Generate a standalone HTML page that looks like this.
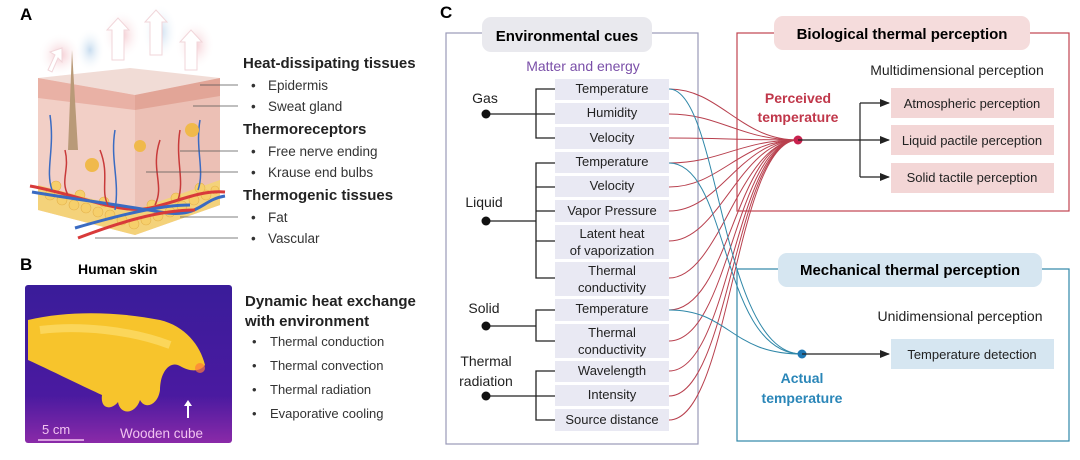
<!DOCTYPE html>
<html><head><meta charset="utf-8"><style>
html,body{margin:0;padding:0;background:#fff;}
svg{display:block;font-family:"Liberation Sans",Arial,sans-serif;}
</style></head><body>
<svg width="1080" height="460" viewBox="0 0 1080 460" xmlns="http://www.w3.org/2000/svg">
<defs>
<marker id="ar" markerWidth="10" markerHeight="8" refX="9" refY="4" orient="auto" markerUnits="userSpaceOnUse"><path d="M0,0 L10,4 L0,8 Z" fill="#222"/></marker>
<radialGradient id="glowR" cx="50%" cy="50%" r="50%"><stop offset="0" stop-color="#f4c9cf"/><stop offset="1" stop-color="#fff" stop-opacity="0"/></radialGradient>
<radialGradient id="glowB" cx="50%" cy="50%" r="50%"><stop offset="0" stop-color="#c7dcef"/><stop offset="1" stop-color="#fff" stop-opacity="0"/></radialGradient>
<linearGradient id="ir" x1="0" y1="0" x2="0" y2="1"><stop offset="0" stop-color="#3a1c9a"/><stop offset="0.7" stop-color="#4a1aa0"/><stop offset="1" stop-color="#8a2aa8"/></linearGradient>
</defs>

<!-- Panel A -->
<text x="20" y="20" font-size="17" font-weight="bold">A</text>
<ellipse cx="60" cy="55" rx="22" ry="22" fill="url(#glowR)"/>
<ellipse cx="122" cy="35" rx="20" ry="25" fill="url(#glowR)"/>
<ellipse cx="160" cy="32" rx="18" ry="28" fill="url(#glowB)"/>
<ellipse cx="195" cy="45" rx="20" ry="25" fill="url(#glowR)"/>
<ellipse cx="90" cy="50" rx="15" ry="22" fill="url(#glowB)"/>
<!-- skin block -->
<polygon points="38,78 130,68 220,78 135,95" fill="#f1dcd6"/>
<polygon points="38,78 135,95 135,235 38,210" fill="#f2cfc6"/>
<polygon points="135,95 220,78 220,205 135,235" fill="#ecc0b5"/>
<polygon points="38,78 135,95 135,110 38,98" fill="#e9b1a5"/>
<polygon points="135,95 220,78 220,96 135,110" fill="#e2a597"/>
<polygon points="38,185 135,210 220,180 220,205 135,235 38,210" fill="#f4d27a"/>
<g fill="#f6cf6b" stroke="#e4b14a" stroke-width="0.6">
<circle cx="50" cy="195" r="5"/><circle cx="62" cy="200" r="5"/><circle cx="74" cy="205" r="5"/><circle cx="86" cy="208" r="5"/><circle cx="98" cy="212" r="5"/><circle cx="110" cy="215" r="5"/><circle cx="122" cy="220" r="5"/><circle cx="134" cy="224" r="5"/><circle cx="146" cy="220" r="5"/><circle cx="158" cy="216" r="5"/><circle cx="170" cy="212" r="5"/><circle cx="182" cy="206" r="5"/><circle cx="194" cy="200" r="5"/><circle cx="206" cy="195" r="5"/><circle cx="215" cy="190" r="4"/>
<circle cx="56" cy="186" r="5"/><circle cx="80" cy="195" r="5"/><circle cx="104" cy="202" r="5"/><circle cx="152" cy="205" r="5"/><circle cx="176" cy="198" r="5"/><circle cx="200" cy="188" r="5"/>
</g>
<path d="M30,186 C80,195 120,215 150,208 S200,190 225,192" stroke="#d83a3a" stroke-width="3" fill="none"/>
<path d="M32,192 C80,200 120,205 160,212 S200,200 225,196" stroke="#3a6bc2" stroke-width="3" fill="none"/>
<path d="M75,228 C120,215 160,205 190,205" stroke="#3a6bc2" stroke-width="3" fill="none"/>
<path d="M78,238 C120,222 160,210 195,210" stroke="#d83a3a" stroke-width="3" fill="none"/>
<g stroke-width="1.5" fill="none">
<path d="M50,115 C55,150 45,170 52,190" stroke="#3a6bc2"/><path d="M115,130 C110,160 120,180 115,210" stroke="#3a6bc2"/><path d="M200,120 C195,150 205,170 198,190" stroke="#3a6bc2"/>
<path d="M65,150 C70,170 60,180 68,195" stroke="#c83a3a"/><path d="M160,140 C150,170 165,185 155,205" stroke="#c83a3a"/><path d="M180,130 C175,160 185,180 178,200" stroke="#c83a3a"/><path d="M100,150 C110,175 100,190 108,205" stroke="#c83a3a"/>
</g>
<path d="M72,50 L78,150 L68,150 Z" fill="#b99a78"/>
<circle cx="92" cy="165" r="7" fill="#f0b94b"/><circle cx="192" cy="130" r="7" fill="#f0b94b"/><circle cx="140" cy="146" r="6" fill="#f0b94b"/>
<g fill="#fff" stroke="#f1d6da" stroke-width="1">
<path d="M112,60 L112,30 L107,30 L118,18 L129,30 L124,30 L124,60 Z"/>
<path d="M185,70 L185,42 L180,42 L191,30 L202,42 L197,42 L197,70 Z"/>
<path d="M150,55 L150,22 L145,22 L156,10 L167,22 L162,22 L162,55 Z"/>
<path d="M48,70 L55,55 L50,52 L62,48 L62,62 L58,58 L52,72 Z"/>
</g>
<g stroke="#555" stroke-width="0.8">
<line x1="200" y1="85" x2="238" y2="85"/><line x1="193" y1="106" x2="238" y2="106"/><line x1="180" y1="151" x2="238" y2="151"/><line x1="146" y1="172" x2="238" y2="172"/><line x1="180" y1="217" x2="238" y2="217"/><line x1="95" y1="238" x2="238" y2="238"/>
</g>
<g font-size="15" font-weight="bold" fill="#222">
<text x="243" y="68">Heat-dissipating tissues</text>
<text x="243" y="134">Thermoreceptors</text>
<text x="243" y="200">Thermogenic tissues</text>
</g>
<g font-size="13.5" fill="#333">
<text x="251" y="90">•</text><text x="268" y="90">Epidermis</text>
<text x="251" y="111">•</text><text x="268" y="111">Sweat gland</text>
<text x="251" y="156">•</text><text x="268" y="156">Free nerve ending</text>
<text x="251" y="177">•</text><text x="268" y="177">Krause end bulbs</text>
<text x="251" y="222">•</text><text x="268" y="222">Fat</text>
<text x="251" y="243">•</text><text x="268" y="243">Vascular</text>
</g>

<!-- Panel B -->
<text x="20" y="270" font-size="17" font-weight="bold">B</text>
<text x="78" y="274" font-size="14" font-weight="bold">Human skin</text>
<rect x="25" y="285" width="207" height="158" fill="url(#ir)" rx="3"/>
<path d="M28,320 C70,310 120,312 160,320 C185,326 200,345 205,365 C200,372 190,372 180,366 C170,360 160,372 160,390 C158,405 145,410 140,400 C135,415 120,415 118,402 C112,410 100,410 102,395 C80,385 50,370 28,360 Z" fill="#f7c42c"/>
<path d="M40,330 C80,325 130,330 170,345" stroke="#fde27a" stroke-width="8" fill="none" opacity="0.6"/>
<circle cx="200" cy="368" r="5" fill="#ff7a3a" opacity="0.7"/>
<line x1="38" y1="440" x2="84" y2="440" stroke="#f2c3f0" stroke-width="1.5"/>
<text x="42" y="434" font-size="13" fill="#f2c3f0">5 cm</text>
<text x="120" y="438" font-size="13.5" fill="#f2c3f0">Wooden cube</text>
<path d="M187,418 L187,406 L184,406 L188,400 L192,406 L189,406 L189,418 Z" fill="#fff"/>
<g font-size="15" font-weight="bold" fill="#222">
<text x="245" y="306">Dynamic heat exchange</text>
<text x="245" y="326">with environment</text>
</g>
<g font-size="13" fill="#333">
<text x="252" y="346">•</text><text x="270" y="346">Thermal conduction</text>
<text x="252" y="370">•</text><text x="270" y="370">Thermal convection</text>
<text x="252" y="394">•</text><text x="270" y="394">Thermal radiation</text>
<text x="252" y="418">•</text><text x="270" y="418">Evaporative cooling</text>
</g>

<!-- Panel C -->
<text x="440" y="18" font-size="17" font-weight="bold">C</text>
<rect x="446" y="33" width="252" height="411" fill="none" stroke="#9a9ab8" stroke-width="1.2"/>
<rect x="482" y="17" width="170" height="35" rx="9" fill="#e9e9ee"/>
<text x="567" y="41" font-size="15" font-weight="bold" text-anchor="middle">Environmental cues</text>
<text x="583" y="71" font-size="14" fill="#7a4fa8" text-anchor="middle">Matter and energy</text>

<g fill="#e9e9f3">
<rect x="555" y="79" width="114" height="21"/><rect x="555" y="103" width="114" height="21"/><rect x="555" y="127" width="114" height="22"/>
<rect x="555" y="152" width="114" height="21"/><rect x="555" y="176" width="114" height="21"/><rect x="555" y="200" width="114" height="22"/>
<rect x="555" y="225" width="114" height="34"/><rect x="555" y="262" width="114" height="34"/>
<rect x="555" y="299" width="114" height="22"/><rect x="555" y="324" width="114" height="34"/>
<rect x="555" y="361" width="114" height="21"/><rect x="555" y="385" width="114" height="21"/><rect x="555" y="409" width="114" height="22"/>
</g>
<g font-size="13" fill="#222" text-anchor="middle">
<text x="612" y="93">Temperature</text><text x="612" y="117">Humidity</text><text x="612" y="142">Velocity</text>
<text x="612" y="166">Temperature</text><text x="612" y="190">Velocity</text><text x="612" y="215">Vapor Pressure</text>
<text x="612" y="238">Latent heat</text><text x="612" y="255">of vaporization</text>
<text x="612" y="275">Thermal</text><text x="612" y="292">conductivity</text>
<text x="612" y="313">Temperature</text>
<text x="612" y="337">Thermal</text><text x="612" y="354">conductivity</text>
<text x="612" y="375">Wavelength</text><text x="612" y="399">Intensity</text><text x="612" y="424">Source distance</text>
</g>
<g stroke="#222" stroke-width="1.3" fill="none">
<path d="M555,89 H536 V138 H555 M486,114 H555"/>
<path d="M555,163 H536 V278 H555 M536,187 H555 M536,211 H555 M536,241 H555 M486,221 H536"/>
<path d="M555,310 H536 V341 H555 M486,326 H536"/>
<path d="M555,371 H536 V420 H555 M486,396 H555"/>
</g>
<g fill="#111"><circle cx="486" cy="114" r="4.5"/><circle cx="486" cy="221" r="4.5"/><circle cx="486" cy="326" r="4.5"/><circle cx="486" cy="396" r="4.5"/></g>
<g font-size="14" fill="#222" text-anchor="middle">
<text x="485" y="103">Gas</text><text x="484" y="207">Liquid</text><text x="484" y="313">Solid</text>
<text x="486" y="366">Thermal</text><text x="486" y="386">radiation</text>
</g>

<!-- connectors -->
<g stroke="#b8404e" stroke-width="1" fill="none">
<path d="M669,89 C720,89 740,140 798,140"/><path d="M669,114 C720,114 740,140 798,140"/><path d="M669,138 C720,138 740,140 798,140"/>
<path d="M669,163 C720,163 740,140 798,140"/><path d="M669,187 C720,187 740,140 798,140"/><path d="M669,211 C720,211 740,140 798,140"/>
<path d="M669,241 C720,241 740,140 798,140"/><path d="M669,278 C720,278 740,140 798,140"/><path d="M669,310 C730,310 735,140 798,140"/>
<path d="M669,341 C730,341 735,140 798,140"/><path d="M669,371 C730,371 735,140 798,140"/><path d="M669,396 C730,396 735,140 798,140"/><path d="M669,420 C730,420 735,140 798,140"/>
</g>
<g stroke="#2f87a8" stroke-width="1" fill="none">
<path d="M669,89 C720,89 720,354 802,354"/><path d="M669,163 C730,163 720,354 802,354"/><path d="M669,310 C730,310 730,354 802,354"/>
</g>

<!-- Bio box -->
<rect x="737" y="33" width="332" height="178" fill="none" stroke="#c0434f" stroke-width="1.2"/>
<rect x="774" y="16" width="256" height="34" rx="9" fill="#f5dcdc"/>
<text x="902" y="39" font-size="15" font-weight="bold" text-anchor="middle">Biological thermal perception</text>
<text x="957" y="75" font-size="14" fill="#222" text-anchor="middle">Multidimensional perception</text>
<text x="798" y="103" font-size="14" font-weight="bold" fill="#c0374a" text-anchor="middle">Perceived</text>
<text x="798" y="122" font-size="14" font-weight="bold" fill="#c0374a" text-anchor="middle">temperature</text>
<circle cx="798" cy="140" r="4.5" fill="#c8224e"/>
<g stroke="#222" stroke-width="1.2" fill="none">
<line x1="798" y1="140" x2="889" y2="140" marker-end="url(#ar)"/>
<path d="M860,103 V177"/><line x1="860" y1="103" x2="889" y2="103" marker-end="url(#ar)"/><line x1="860" y1="177" x2="889" y2="177" marker-end="url(#ar)"/>
</g>
<g fill="#f3d6d6"><rect x="891" y="88" width="163" height="30"/><rect x="891" y="125" width="163" height="30"/><rect x="891" y="163" width="163" height="30"/></g>
<g font-size="13" fill="#222" text-anchor="middle">
<text x="972" y="108">Atmospheric perception</text><text x="972" y="145">Liquid pactile perception</text><text x="972" y="182">Solid tactile perception</text>
</g>

<!-- Mech box -->
<rect x="737" y="269" width="332" height="172" fill="none" stroke="#2f87a8" stroke-width="1.2"/>
<rect x="778" y="253" width="264" height="34" rx="9" fill="#d6e6f1"/>
<text x="910" y="275" font-size="15" font-weight="bold" text-anchor="middle">Mechanical thermal perception</text>
<text x="960" y="321" font-size="14" fill="#222" text-anchor="middle">Unidimensional perception</text>
<circle cx="802" cy="354" r="4.5" fill="#1f78b4"/>
<line x1="802" y1="354" x2="889" y2="354" stroke="#222" stroke-width="1.2" marker-end="url(#ar)"/>
<rect x="891" y="339" width="163" height="30" fill="#d6e6f1"/>
<text x="972" y="359" font-size="13" fill="#222" text-anchor="middle">Temperature detection</text>
<text x="802" y="383" font-size="14" font-weight="bold" fill="#2a86b8" text-anchor="middle">Actual</text>
<text x="802" y="403" font-size="14" font-weight="bold" fill="#2a86b8" text-anchor="middle">temperature</text>
</svg>
</body></html>
